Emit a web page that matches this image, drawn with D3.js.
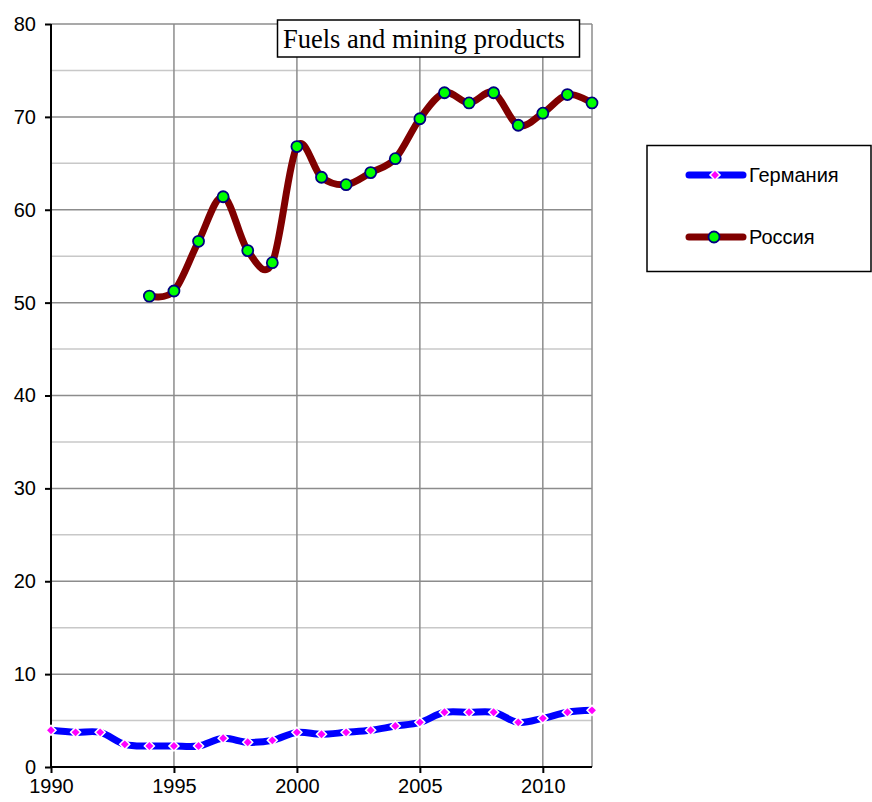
<!DOCTYPE html>
<html>
<head>
<meta charset="utf-8">
<script src="https://cdn.jsdelivr.net/npm/d3@7"></script>
<style>
  body { margin: 0; background: #fff; }
  svg { display: block; }
</style>
</head>
<body>
<div id="chart"></div>
<script>
// data
let yearsGermany = d3.range(1990, 2013)
let germany = [3.95, 3.73, 3.73, 2.44, 2.26, 2.26, 2.26, 3.09, 2.66, 2.87, 3.73,
  3.52, 3.73, 3.95, 4.41, 4.81, 5.89, 5.89, 5.89, 4.81, 5.24, 5.89, 6.1]

let yearsRussia = d3.range(1994, 2013)
let russia = [50.7, 51.25, 56.6, 61.4, 55.6, 54.3, 66.8, 63.5, 62.7, 64.0, 65.5,
  69.8, 72.6, 71.5, 72.6, 69.1, 70.4, 72.4, 71.5]

let yTicks = [0, 10, 20, 30, 40, 50, 60, 70, 80]
let xTicks = [1990, 1995, 2000, 2005, 2010]
let seriesNames = ['Германия', 'Россия']
let title = 'Fuels and mining products'

// margins / size
let margin = { top: 24, left: 51, right: 280, bottom: 35 }
let width = 872 - margin.left - margin.right
let height = 802 - margin.top - margin.bottom

let svg = d3.select('#chart')
  .append('svg')
  .attr('width', 872)
  .attr('height', 802)

let g = svg.append('g')
  .attr('transform', `translate(${margin.left},${margin.top})`)

let x = d3.scaleLinear().domain([1990, 2012]).range([0, width])
let y = d3.scaleLinear().domain([0, 80]).range([height, 0])

// minor horizontal grid
g.selectAll('.minor')
  .data(d3.range(5, 80, 10))
  .enter()
  .append('line')
  .attr('x1', 0).attr('x2', width)
  .attr('y1', d => y(d)).attr('y2', d => y(d))
  .attr('stroke', '#c8c8c8')
  .attr('stroke-width', 1.5)

// major horizontal grid
g.selectAll('.major')
  .data(yTicks.slice(1))
  .enter()
  .append('line')
  .attr('x1', 0).attr('x2', width)
  .attr('y1', d => y(d)).attr('y2', d => y(d))
  .attr('stroke', '#8c8c8c')
  .attr('stroke-width', 1.5)

// vertical grid
g.selectAll('.vgrid')
  .data(xTicks.slice(1).concat([2012]))
  .enter()
  .append('line')
  .attr('x1', d => x(d)).attr('x2', d => x(d))
  .attr('y1', 0).attr('y2', height)
  .attr('stroke', '#8c8c8c')
  .attr('stroke-width', 1.5)

// axes
let yAxis = d3.axisLeft(y).tickValues(yTicks).tickSize(6).tickPadding(9)
let xAxis = d3.axisBottom(x).tickValues(xTicks).tickFormat(d3.format('d')).tickSize(6).tickPadding(6)

g.append('g')
  .attr('class', 'axis y-axis')
  .call(yAxis)

g.append('g')
  .attr('class', 'axis x-axis')
  .attr('transform', `translate(0,${height})`)
  .call(xAxis)

g.selectAll('.axis path, .axis line')
  .attr('stroke', '#000')
  .attr('stroke-width', 2)
g.selectAll('.axis .domain').attr('d', function() {
  return d3.select(this.parentNode).classed('y-axis')
    ? `M0,0V${height}` : `M0,0H${width}`
})
g.selectAll('.axis text')
  .attr('font-family', 'Liberation Sans, Arial, sans-serif')
  .attr('font-size', 20)
  .attr('fill', '#000')

// lines
let line = d3.line()
  .x(d => x(d.year))
  .y(d => y(d.value))
  .curve(d3.curveCatmullRom.alpha(0))

let germanyData = yearsGermany.map((yr, i) => ({ year: yr, value: germany[i] }))
let russiaData = yearsRussia.map((yr, i) => ({ year: yr, value: russia[i] }))

// square diamond (rotated square)
let diamond = d3.symbol().type(d3.symbolSquare).size(50)

g.append('path')
  .datum(germanyData)
  .attr('d', line)
  .attr('fill', 'none')
  .attr('stroke', '#0000ff')
  .attr('stroke-width', 7)

g.selectAll('.gm')
  .data(germanyData)
  .enter()
  .append('path')
  .attr('d', diamond)
  .attr('transform', d => `translate(${x(d.year)},${y(d.value)}) rotate(45)`)
  .attr('fill', '#ff00ff')
  .attr('stroke', '#fff')
  .attr('stroke-width', 1.5)

g.append('path')
  .datum(russiaData)
  .attr('d', line)
  .attr('fill', 'none')
  .attr('stroke', '#800000')
  .attr('stroke-width', 7)

g.selectAll('.rm')
  .data(russiaData)
  .enter()
  .append('circle')
  .attr('cx', d => x(d.year))
  .attr('cy', d => y(d.value))
  .attr('r', 5.5)
  .attr('fill', '#00ff00')
  .attr('stroke', '#000080')
  .attr('stroke-width', 1.8)

// title box
svg.append('rect')
  .attr('x', 277.5).attr('y', 20)
  .attr('width', 302).attr('height', 37)
  .attr('fill', '#fff')
  .attr('stroke', '#000')
  .attr('stroke-width', 1.5)

svg.append('text')
  .text(title)
  .attr('x', 283)
  .attr('y', 48)
  .attr('font-family', 'Liberation Serif, Times New Roman, serif')
  .attr('font-size', 26.5)

// legend
let legend = svg.append('g')
legend.append('rect')
  .attr('x', 647).attr('y', 145.5)
  .attr('width', 224).attr('height', 126)
  .attr('fill', '#fff')
  .attr('stroke', '#000')
  .attr('stroke-width', 1.5)

let legendY = [175, 237]
let colors = ['#0000ff', '#800000']

seriesNames.forEach((name, i) => {
  legend.append('line')
    .attr('x1', 689).attr('x2', 743)
    .attr('y1', legendY[i]).attr('y2', legendY[i])
    .attr('stroke', colors[i])
    .attr('stroke-width', 7)
    .attr('stroke-linecap', 'round')

  if (i === 0) {
    legend.append('path')
      .attr('d', diamond)
      .attr('transform', `translate(715,${legendY[i]}) rotate(45)`)
      .attr('fill', '#ff00ff')
      .attr('stroke', '#fff')
      .attr('stroke-width', 1.5)
  } else {
    legend.append('circle')
      .attr('cx', 714).attr('cy', legendY[i])
      .attr('r', 5.5)
      .attr('fill', '#00ff00')
      .attr('stroke', '#000080')
      .attr('stroke-width', 1.8)
  }

  legend.append('text')
    .text(name)
    .attr('x', 749)
    .attr('y', legendY[i] + 7)
    .attr('font-family', 'Liberation Sans, Arial, sans-serif')
    .attr('font-size', 20)
})
</script>
</body>
</html>
